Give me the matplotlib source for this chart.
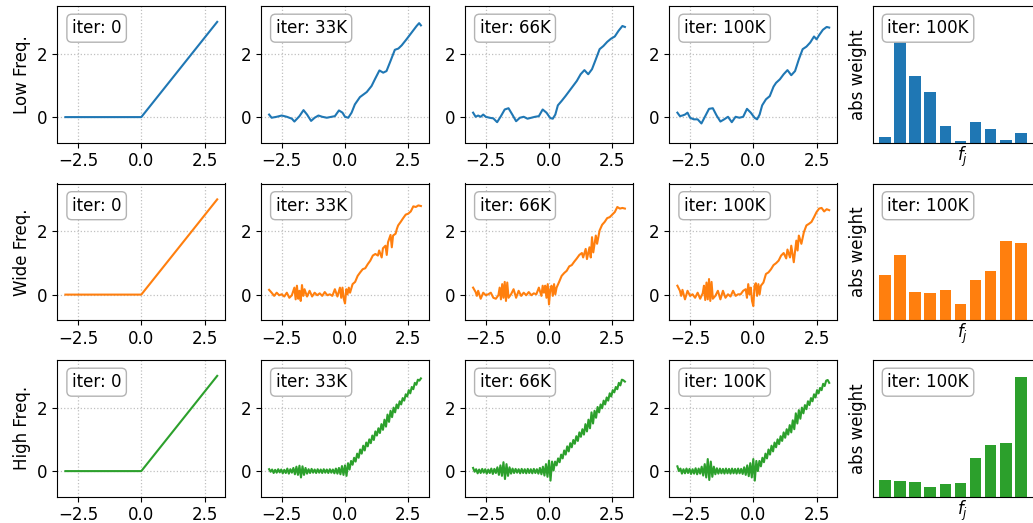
import numpy as np
import matplotlib
matplotlib.use("Agg")
import matplotlib.pyplot as plt

# --- data ---
row_names = ["Low Freq.", "Wide Freq.", "High Freq."]
iter_labels = ["iter: 0", "iter: 33K", "iter: 66K", "iter: 100K"]
colors = ["#1f77b4", "#ff7f0e", "#2ca02c"]

# iter 0: plain relu
relu_x = [-3.0, 0.0, 3.0]
relu_y = [0.0, 0.0, 3.0]

# low freq
low_33k_x = [-3.0, -2.9, -2.7, -2.5, -2.3, -2.1, -2.0, -1.8, -1.64, -1.5, -1.34, -1.2, -1.05,
             -0.9, -0.72, -0.53, -0.4, -0.24, -0.1, 0.0, 0.13, 0.26, 0.39, 0.59, 0.86, 1.05,
             1.18, 1.36, 1.51, 1.64, 1.8, 1.97, 2.11, 2.24, 2.43, 2.63, 2.83, 2.93, 3.0]
low_33k_y = [0.08, -0.02, 0.01, 0.05, 0.01, -0.05, -0.14, 0.03, 0.22, 0.08, -0.12, -0.02, 0.05,
             0.01, -0.02, 0.01, 0.03, 0.21, 0.14, 0.01, -0.02, 0.14, 0.40, 0.63, 0.79, 0.98,
             1.19, 1.47, 1.40, 1.45, 1.77, 2.12, 2.16, 2.26, 2.45, 2.66, 2.87, 2.96, 2.89]

low_66k_x = [-3.0, -2.9, -2.8, -2.7, -2.6, -2.5, -2.35, -2.2, -2.05, -1.9, -1.75, -1.6, -1.45,
             -1.3, -1.15, -1.0, -0.85, -0.7, -0.55, -0.4, -0.25, -0.1, 0.05, 0.15, 0.25, 0.35,
             0.5, 0.65, 0.8, 0.95, 1.1, 1.25, 1.4, 1.55, 1.7, 1.85, 2.0, 2.15, 2.3, 2.45, 2.6,
             2.75, 2.9, 3.0]
low_66k_y = [0.14, 0.01, 0.05, 0.01, 0.08, 0.01, -0.02, -0.04, -0.16, 0.03, 0.24, 0.28, 0.08,
             -0.13, -0.02, 0.01, -0.05, -0.02, 0.01, 0.03, 0.24, 0.14, -0.03, -0.05, 0.08, 0.37,
             0.51, 0.66, 0.82, 0.98, 1.14, 1.35, 1.48, 1.35, 1.51, 1.82, 2.14, 2.24, 2.37, 2.47,
             2.54, 2.72, 2.87, 2.84]

low_100k_x = [-3.0, -2.9, -2.8, -2.7, -2.6, -2.5, -2.35, -2.2, -2.05, -1.9, -1.75, -1.6, -1.45,
              -1.3, -1.15, -1.0, -0.85, -0.7, -0.55, -0.4, -0.25, -0.1, 0.05, 0.15, 0.25, 0.35,
              0.5, 0.65, 0.8, 0.9, 1.05, 1.2, 1.35, 1.5, 1.65, 1.8, 1.95, 2.1, 2.25, 2.4, 2.5,
              2.6, 2.75, 2.9, 3.0]
low_100k_y = [0.14, 0.03, 0.05, 0.08, 0.14, -0.02, -0.07, -0.07, -0.2, 0.03, 0.26, 0.28, 0.05,
              -0.14, -0.07, 0.01, -0.16, 0.01, -0.02, 0.01, 0.26, 0.14, -0.02, -0.07, 0.08, 0.37,
              0.56, 0.66, 0.96, 1.08, 1.19, 1.35, 1.48, 1.32, 1.45, 1.82, 2.14, 2.22, 2.35, 2.54,
              2.45, 2.58, 2.75, 2.84, 2.82]

# wide freq
wide_33k_x = [-3.0, -2.9, -2.8, -2.7, -2.6, -2.5, -2.4, -2.3, -2.2, -2.1, -2.0, -1.95, -1.9,
              -1.85, -1.8, -1.75, -1.7, -1.65, -1.6, -1.5, -1.4, -1.3, -1.2, -1.1, -1.0, -0.9,
              -0.8, -0.7, -0.6, -0.5, -0.4, -0.3, -0.2, -0.15, -0.1, -0.05, 0.0, 0.05, 0.1,
              0.15, 0.2, 0.3, 0.4, 0.5, 0.6, 0.7, 0.8, 0.9, 1.0, 1.1, 1.2, 1.3, 1.35, 1.45,
              1.5, 1.6, 1.65, 1.7, 1.8, 1.85, 1.9, 2.0, 2.05, 2.1, 2.2, 2.3, 2.4, 2.5, 2.6,
              2.7, 2.8, 2.9, 3.0]
wide_33k_y = [0.15, 0.06, -0.04, 0.06, -0.02, 0.01, -0.06, 0.06, -0.10, -0.02, 0.22, -0.15, 0.28,
              -0.13, 0.12, -0.20, 0.30, -0.04, 0.17, -0.06, 0.12, -0.06, 0.06, -0.02, 0.04, -0.04,
              0.08, -0.02, 0.01, -0.04, 0.17, -0.06, 0.22, -0.10, 0.22, -0.13, -0.28, 0.17, 0.01,
              0.22, 0.06, 0.33, 0.40, 0.59, 0.70, 0.80, 0.83, 0.96, 1.07, 1.23, 1.28, 1.23, 1.39,
              1.17, 1.46, 1.54, 1.25, 1.65, 1.88, 1.49, 1.86, 1.92, 2.07, 2.18, 2.29, 2.41, 2.52,
              2.55, 2.62, 2.78, 2.76, 2.81, 2.79]

wide_66k_x = [-3.0, -2.9, -2.85, -2.8, -2.7, -2.6, -2.5, -2.4, -2.3, -2.2, -2.1, -2.0, -1.95,
              -1.9, -1.85, -1.8, -1.75, -1.7, -1.65, -1.6, -1.5, -1.4, -1.3, -1.2, -1.1, -1.0,
              -0.9, -0.8, -0.7, -0.6, -0.5, -0.4, -0.3, -0.25, -0.2, -0.15, -0.1, -0.05, 0.0,
              0.05, 0.1, 0.15, 0.2, 0.25, 0.3, 0.4, 0.5, 0.6, 0.7, 0.8, 0.9, 1.0, 1.1, 1.2,
              1.3, 1.35, 1.45, 1.5, 1.6, 1.65, 1.7, 1.75, 1.85, 1.9, 2.0, 2.1, 2.2, 2.3, 2.4,
              2.5, 2.6, 2.7, 2.8, 2.9, 3.0]
wide_66k_y = [0.22, 0.08, -0.04, 0.12, -0.13, 0.06, -0.02, 0.01, 0.06, -0.10, -0.13, -0.02, 0.22,
              -0.15, 0.33, -0.10, 0.40, -0.20, 0.38, -0.10, 0.01, 0.17, -0.10, 0.12, -0.04, 0.06,
              -0.02, 0.08, -0.02, 0.04, 0.01, 0.22, -0.04, 0.28, 0.06, 0.28, -0.10, 0.33, -0.31,
              0.17, 0.28, -0.04, 0.33, 0.01, 0.22, 0.40, 0.59, 0.68, 0.75, 0.89, 0.93, 1.04, 1.14,
              1.25, 1.31, 1.17, 1.44, 1.12, 1.49, 1.17, 1.81, 1.33, 1.86, 1.60, 2.02, 2.20, 2.29,
              2.41, 2.44, 2.52, 2.60, 2.76, 2.71, 2.73, 2.71]

wide_100k_x = [-3.0, -2.9, -2.85, -2.8, -2.7, -2.6, -2.5, -2.4, -2.3, -2.2, -2.1, -2.0, -1.95,
               -1.9, -1.85, -1.8, -1.75, -1.7, -1.65, -1.6, -1.5, -1.4, -1.3, -1.2, -1.1, -1.0,
               -0.9, -0.8, -0.7, -0.6, -0.5, -0.4, -0.3, -0.25, -0.2, -0.15, -0.1, -0.05, 0.0,
               0.05, 0.1, 0.15, 0.2, 0.25, 0.3, 0.4, 0.5, 0.6, 0.7, 0.8, 0.9, 1.0, 1.1, 1.2,
               1.3, 1.35, 1.45, 1.5, 1.6, 1.7, 1.75, 1.8, 1.9, 2.0, 2.1, 2.2, 2.3, 2.4, 2.5,
               2.6, 2.7, 2.8, 2.9, 3.0]
wide_100k_y = [0.28, 0.12, -0.04, 0.15, -0.15, 0.12, -0.04, 0.01, -0.10, 0.06, -0.13, 0.04, 0.28,
               -0.17, 0.38, -0.15, 0.49, -0.20, 0.40, -0.13, -0.04, 0.12, -0.15, 0.12, -0.10, 0.01,
               -0.06, 0.12, -0.04, 0.01, 0.01, 0.12, 0.17, -0.10, 0.33, 0.01, 0.22, -0.20, -0.36,
               0.28, 0.36, -0.04, 0.33, 0.01, 0.28, 0.38, 0.65, 0.70, 0.80, 0.93, 0.99, 1.07, 1.23,
               1.31, 1.14, 1.42, 1.17, 1.54, 1.02, 1.70, 1.39, 1.86, 1.60, 1.97, 2.18, 2.23, 2.29,
               2.44, 2.60, 2.71, 2.73, 2.62, 2.69, 2.66]

# high freq (sampled every 0.06 from -3 to 3)
high_x = np.linspace(-3, 3, 101)
high_33k_y = [0.06, -0.02, 0.05, -0.06, 0.04, -0.05, 0.06, -0.04, 0.05, -0.07,
              0.04, -0.06, 0.08, -0.08, 0.06, -0.05, 0.10, -0.10, 0.14, -0.12,
              0.17, -0.20, 0.15, -0.12, 0.10, -0.08, 0.06, -0.06, 0.07, -0.05,
              0.05, -0.06, 0.06, -0.05, 0.05, -0.06, 0.06, -0.05, 0.05, -0.06,
              0.06, -0.05, 0.05, -0.07, 0.08, -0.08, 0.10, -0.10, 0.16, -0.12,
              0.18, -0.15, 0.25, 0.05, 0.32, 0.20, 0.42, 0.30, 0.55, 0.42,
              0.68, 0.55, 0.80, 0.65, 0.90, 0.78, 1.00, 0.88, 1.12, 0.98,
              1.25, 1.12, 1.35, 1.20, 1.48, 1.30, 1.62, 1.40, 1.78, 1.55,
              1.90, 1.70, 2.00, 1.85, 2.10, 1.98, 2.20, 2.10, 2.30, 2.22,
              2.42, 2.35, 2.55, 2.45, 2.65, 2.58, 2.78, 2.72, 2.88, 2.85, 2.92]
high_66k_y = [0.10, -0.02, 0.06, -0.07, 0.05, -0.06, 0.07, -0.05, 0.06, -0.08,
              0.05, -0.06, 0.08, -0.09, 0.07, -0.06, 0.12, -0.12, 0.18, -0.15,
              0.28, -0.25, 0.22, -0.15, 0.12, -0.08, 0.08, -0.06, 0.07, -0.05,
              0.06, -0.07, 0.07, -0.06, 0.06, -0.07, 0.07, -0.06, 0.06, -0.07,
              0.07, -0.06, 0.06, -0.08, 0.10, -0.10, 0.14, -0.14, 0.22, -0.18,
              0.33, -0.30, 0.30, 0.02, 0.30, 0.18, 0.40, 0.28, 0.52, 0.40,
              0.65, 0.52, 0.78, 0.62, 0.88, 0.75, 0.98, 0.86, 1.10, 0.95,
              1.22, 1.08, 1.32, 1.15, 1.48, 1.25, 1.62, 1.35, 1.85, 1.50,
              1.90, 1.68, 2.02, 1.85, 2.10, 1.98, 2.22, 2.10, 2.32, 2.22,
              2.45, 2.35, 2.55, 2.48, 2.65, 2.58, 2.78, 2.70, 2.88, 2.86, 2.82]
high_100k_y = [0.15, 0.00, 0.08, -0.08, 0.06, -0.07, 0.08, -0.06, 0.07, -0.09,
               0.06, -0.08, 0.09, -0.10, 0.08, -0.08, 0.14, -0.14, 0.22, -0.20,
               0.38, -0.28, 0.30, -0.18, 0.14, -0.10, 0.09, -0.08, 0.08, -0.07,
               0.07, -0.08, 0.08, -0.07, 0.07, -0.08, 0.08, -0.07, 0.07, -0.08,
               0.08, -0.07, 0.07, -0.09, 0.12, -0.12, 0.18, -0.16, 0.25, -0.20,
               0.38, -0.30, 0.32, 0.00, 0.32, 0.15, 0.42, 0.28, 0.55, 0.40,
               0.68, 0.52, 0.80, 0.62, 0.90, 0.75, 1.00, 0.85, 1.10, 0.95,
               1.22, 1.05, 1.32, 1.15, 1.45, 1.22, 1.60, 1.32, 1.82, 1.50,
               1.92, 1.65, 2.00, 1.82, 2.08, 1.95, 2.20, 2.08, 2.30, 2.20,
               2.42, 2.32, 2.55, 2.45, 2.62, 2.55, 2.75, 2.68, 2.85, 2.87, 2.78]

# abs weights at 100K (relative to panel height)
low_weights = [0.039, 0.738, 0.488, 0.370, 0.120, 0.010, 0.150, 0.098, 0.017, 0.069]
wide_weights = [0.329, 0.476, 0.205, 0.198, 0.220, 0.117, 0.293, 0.359, 0.578, 0.563]
high_weights = [0.118, 0.110, 0.103, 0.066, 0.088, 0.096, 0.279, 0.375, 0.390, 0.875]

curves = [
    [(relu_x, relu_y), (low_33k_x, low_33k_y), (low_66k_x, low_66k_y), (low_100k_x, low_100k_y)],
    [(relu_x, relu_y), (wide_33k_x, wide_33k_y), (wide_66k_x, wide_66k_y), (wide_100k_x, wide_100k_y)],
    [(relu_x, relu_y), (high_x, high_33k_y), (high_x, high_66k_y), (high_x, high_100k_y)],
]
weights = [low_weights, wide_weights, high_weights]

plt.rcParams["font.size"] = 12

# --- layout (pixels -> figure fractions) ---
W, H = 1033, 523
fig = plt.figure(figsize=(W / 100, H / 100), dpi=100)
col_left = [57.3, 261, 465, 669.3, 872.7]
row_top = [6, 183.5, 360]
ax_w, ax_h = 168, 136.5

box = dict(boxstyle="round,pad=0.3", facecolor="white", edgecolor="0.7", linewidth=1)


def add_label(ax, text):
    ax.annotate(text, xy=(0, 1), xycoords="axes fraction", xytext=(10.5, -9.5),
                textcoords="offset points", ha="left", va="top", fontsize=12, bbox=box)


for r in range(3):
    bottom = 1 - (row_top[r] + ax_h) / H
    for c in range(4):
        ax = fig.add_axes([col_left[c] / W, bottom, ax_w / W, ax_h / H])
        x, y = curves[r][c]
        ax.plot(x, y, color=colors[r], lw=1.5)
        ax.set_xlim(-3.32, 3.32)
        ax.set_ylim(-0.8, 3.5)
        ax.set_xticks([-2.5, 0, 2.5])
        ax.set_yticks([0, 2])
        ax.grid(True, linestyle=":", color="#c0c0c0", lw=0.9)
        add_label(ax, iter_labels[c])
        if c == 0:
            ax.set_ylabel(row_names[r])

    # bar panel, runs off the right edge like the original
    axb = fig.add_axes([col_left[4] / W, bottom, 180 / W, ax_h / H])
    idx = np.arange(len(weights[r]))
    axb.bar(idx, weights[r], width=0.77, color=colors[r])
    axb.set_xlim(-0.81, -0.81 + 180 / 15.1)
    axb.set_ylim(0, 1)
    axb.set_xticks([])
    axb.set_yticks([])
    axb.set_ylabel("abs weight")
    axb.set_xlabel("$f_j$", labelpad=1.5)
    add_label(axb, "iter: 100K")

fig.savefig("out.png", dpi=100)
